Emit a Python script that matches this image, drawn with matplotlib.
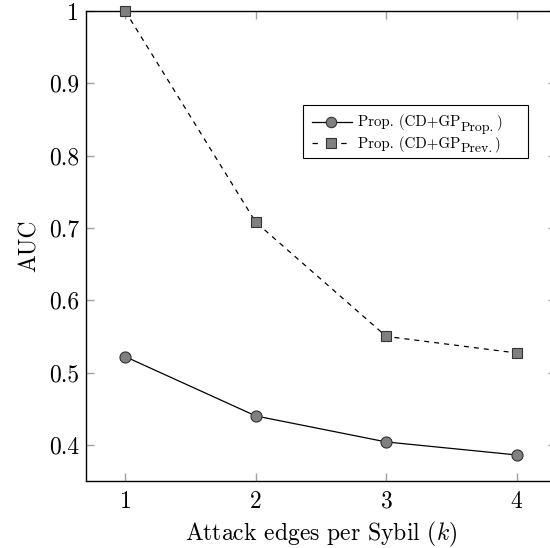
import matplotlib
matplotlib.use("Agg")
from matplotlib import pyplot as plt
from matplotlib.lines import Line2D
from matplotlib.patches import Rectangle

plt.rcParams["font.family"] = ["cmr10", "DejaVu Serif"]
plt.rcParams["mathtext.fontset"] = "cm"
plt.rcParams["axes.formatter.use_mathtext"] = True

k = [1, 2, 3, 4]
auc_prop = [0.522, 0.440, 0.404, 0.386]
auc_prev = [1.0, 0.708, 0.550, 0.527]
xticks = [1, 2, 3, 4]
yticks = [0.4, 0.5, 0.6, 0.7, 0.8, 0.9, 1.0]
yticklabels = ["0.4", "0.5", "0.6", "0.7", "0.8", "0.9", "1"]
legend_main = ["Prop. (CD+GP", "Prop. (CD+GP"]
legend_sub = ["Prop.", "Prev."]

W, H = 550, 548
fig = plt.figure(figsize=(W / 100, H / 100), dpi=100)
ax = fig.add_axes([86 / W, 1 - 481 / H, 470 / W, 470 / H])


def fx(x):
    return x / W


def fy(y):
    return 1 - y / H


style_prop = dict(color="black", lw=0.9, marker="o", ms=8,
                  mfc="#808080", mec="#333333", mew=0.8)
style_prev = dict(color="black", lw=0.9, ls=(0, (4, 4)), marker="s", ms=7.5,
                  mfc="#808080", mec="#333333", mew=0.8)

ax.plot(k, auc_prop, clip_on=False, zorder=3, **style_prop)
ax.plot(k, auc_prev, clip_on=False, zorder=3, **style_prev)

ax.set_xlim(0.7, 4.3)
ax.set_ylim(0.35, 1.0)
ax.set_xticks(xticks)
ax.set_yticks(yticks)
ax.set_yticklabels(yticklabels)
ax.tick_params(direction="in", length=6, width=1, color="#a0a0a0",
               top=True, right=True, labelsize=17)
ax.tick_params(axis="y", pad=5)
ax.tick_params(axis="x", pad=7)
for s in ax.spines.values():
    s.set_linewidth(1)

ax.set_xlabel(r"Attack edges per Sybil ($k$)", fontsize=17, labelpad=5)
ax.set_ylabel("AUC", fontsize=17, labelpad=6)

# legend drawn by hand (pgfplots look, subscript as big as main text)
fig.add_artist(Rectangle((fx(303), fy(158)), (528 - 303) / W, (158 - 105) / H,
                         transform=fig.transFigure, fill=True, facecolor="white",
                         edgecolor="black", lw=0.8, zorder=5))
fig.add_artist(Line2D([fx(312), fx(352)], [fy(122), fy(122)], color="black", lw=0.9,
                      transform=fig.transFigure, zorder=6))
fig.add_artist(Line2D([fx(312), fx(352)], [fy(143), fy(143)], color="black", lw=0.9,
                      ls=(0, (4.3, 18.7)), transform=fig.transFigure, zorder=6))
fig.add_artist(Line2D([fx(331)], [fy(122)], ls="none", marker="o", ms=7.5,
                      mfc="#808080", mec="#333333", mew=0.8,
                      transform=fig.transFigure, zorder=7))
fig.add_artist(Line2D([fx(331)], [fy(143)], ls="none", marker="s", ms=7,
                      mfc="#808080", mec="#333333", mew=0.8,
                      transform=fig.transFigure, zorder=7))

fig.canvas.draw()
renderer = fig.canvas.get_renderer()
for base_y, main, sub in zip([126, 148], legend_main, legend_sub):
    t = fig.text(fx(358), fy(base_y), main, fontsize=10.8, va="baseline", zorder=8)
    x1 = t.get_window_extent(renderer).x1
    s = fig.text(x1 / W + 0.5 / W, fy(base_y + 4.5), sub, fontsize=10, va="baseline", zorder=8)
    x2 = s.get_window_extent(renderer).x1
    fig.text(x2 / W + 1.5 / W, fy(base_y), ")", fontsize=10.8, va="baseline", zorder=8)

plt.savefig("out.png", dpi=100)
